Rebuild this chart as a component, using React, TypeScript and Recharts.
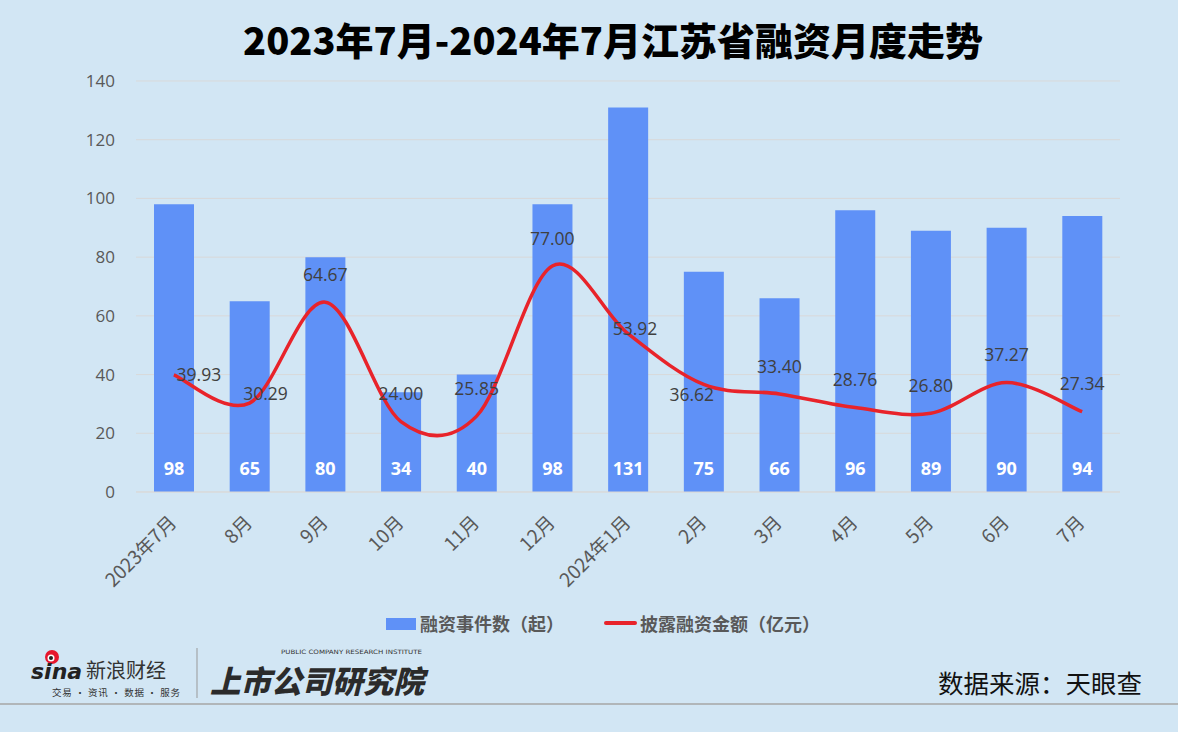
import React from "react";
import { Bar, CartesianGrid, ComposedChart, LabelList, Line, XAxis, YAxis } from "recharts";

const months = ["2023年7月", "8月", "9月", "10月", "11月", "12月", "2024年1月", "2月", "3月", "4月", "5月", "6月", "7月"];
const eventCounts = [98, 65, 80, 34, 40, 98, 131, 75, 66, 96, 89, 90, 94];
const amounts = [39.93, 30.29, 64.67, 24.0, 25.85, 77.0, 53.92, 36.62, 33.4, 28.76, 26.8, 37.27, 27.34];
const yTicks = [0, 20, 40, 60, 80, 100, 120, 140];

// label nudges for the line labels (style only, dx/dy from the point)
const LABEL_NUDGE: Array<[number, number]> = [
  [25, 2], [16, -8], [0, -26], [0, -26], [0, -26], [0, -26], [7, -3],
  [-12, 12], [0, -26], [0, -26], [0, -26], [0, -26], [0, -26],
];

const BG = "#d2e6f4";
const BAR = "#5f91f7";
const RED = "#e8232a";
const NUM_FONT = "'Open Sans', 'Noto Sans CJK SC', sans-serif";
const CJK_FONT = "'Noto Sans CJK SC', sans-serif";

const data = months.map((m, i) => ({ month: m, count: eventCounts[i], amount: amounts[i] }));

// Excel-like smoothed line (Catmull-Rom as cubic beziers)
const smoothCurve = (context: any) => {
  let pts: Array<[number, number]> = [];
  return {
    areaStart() {},
    areaEnd() {},
    lineStart() {
      pts = [];
    },
    point(x: number, y: number) {
      pts.push([+x, +y]);
    },
    lineEnd() {
      const n = pts.length;
      if (!n) return;
      context.moveTo(pts[0][0], pts[0][1]);
      for (let i = 0; i < n - 1; i++) {
        const p0 = pts[i - 1] || pts[i];
        const p1 = pts[i];
        const p2 = pts[i + 1];
        const p3 = pts[i + 2] || p2;
        context.bezierCurveTo(
          p1[0] + (p2[0] - p0[0]) / 6,
          p1[1] + (p2[1] - p0[1]) / 6,
          p2[0] - (p3[0] - p1[0]) / 6,
          p2[1] - (p3[1] - p1[1]) / 6,
          p2[0],
          p2[1]
        );
      }
    },
  };
};

const MonthTick = ({ x, y, payload }: any) => (
  <g transform={`translate(${x - 6},${y + 14}) rotate(-45)`}>
    <text textAnchor="end" dy={14} fontSize={19} fill="#595959" fontFamily={CJK_FONT}>
      {payload.value}
    </text>
  </g>
);

const BarValue = (props: any) => {
  const { x, y, width, height, value } = props;
  return (
    <text
      x={x + width / 2}
      y={y + height - 22}
      textAnchor="middle"
      dominantBaseline="middle"
      fill="#fff"
      fontSize={18}
      fontWeight={700}
      fontFamily={NUM_FONT}
    >
      {value}
    </text>
  );
};

const LineValue = (props: any) => {
  const { x, y, value, index } = props;
  const [dx, dy] = LABEL_NUDGE[index] || [0, -26];
  return (
    <text
      x={x + dx}
      y={y + dy}
      textAnchor="middle"
      dominantBaseline="middle"
      fill="#404040"
      fontSize={17.5}
      fontFamily={NUM_FONT}
    >
      {Number(value).toFixed(2)}
    </text>
  );
};

const legendText: React.CSSProperties = {
  position: "absolute",
  top: 0,
  fontFamily: CJK_FONT,
  fontWeight: 700,
  fontSize: 18,
  lineHeight: "22px",
  color: "#595959",
  whiteSpace: "nowrap",
};

export default function App() {
  return (
    <div style={{ position: "absolute", left: 0, top: 0, width: 1178, height: 732, background: BG, overflow: "hidden" }}>
      <div
        style={{
          position: "absolute",
          top: 11,
          left: 24,
          width: 1178,
          textAlign: "center",
          fontFamily: CJK_FONT,
          fontWeight: 900,
          fontSize: 38,
          color: "#000",
        }}
      >
        2023年7月-2024年7月江苏省融资月度走势
      </div>

      <div style={{ position: "absolute", left: 0, top: 0 }}>
        <ComposedChart width={1178} height={600} data={data} margin={{ top: 81, right: 58, left: 76, bottom: 18 }}>
          <CartesianGrid vertical={false} stroke="#d9d9d9" />
          <XAxis
            dataKey="month"
            tick={<MonthTick />}
            interval={0}
            height={90}
            axisLine={{ stroke: "#d9d9d9" }}
            tickLine={false}
          />
          <YAxis
            domain={[0, 140]}
            ticks={yTicks}
            width={60}
            axisLine={false}
            tickLine={false}
            tickMargin={15}
            tick={{ fontSize: 17, fill: "#595959", fontFamily: NUM_FONT }}
          />
          <Bar dataKey="count" fill={BAR} barSize={40} isAnimationActive={false}>
            <LabelList dataKey="count" content={<BarValue />} />
          </Bar>
          <Line
            dataKey="amount"
            type={smoothCurve as any}
            stroke={RED}
            strokeWidth={3.5}
            dot={false}
            isAnimationActive={false}
          >
            <LabelList dataKey="amount" content={<LineValue />} />
          </Line>
        </ComposedChart>
      </div>

      {/* legend */}
      <div style={{ position: "absolute", top: 612, left: 0 }}>
        <span style={{ position: "absolute", left: 386, top: 6, width: 30, height: 12, background: BAR }} />
        <span style={{ ...legendText, left: 420 }}>融资事件数（起）</span>
        <span style={{ position: "absolute", left: 604, top: 9, width: 33, height: 4, borderRadius: 2, background: RED }} />
        <span style={{ ...legendText, left: 640 }}>披露融资金额（亿元）</span>
      </div>

      {/* footer */}
      <svg width={1178} height={100} style={{ position: "absolute", left: 0, top: 632 }}>
        <circle cx={52} cy={25} r={7} fill="#e6162d" />
        <circle cx={51} cy={26} r={3.5} fill="#fff" />
        <circle cx={51} cy={26} r={2} fill="#222" />
        <text x={31} y={47} fontSize={22} fontWeight={900} fontStyle="italic" fill="#222" fontFamily="'DejaVu Sans', sans-serif">
          sina
        </text>
        <text x={86} y={46} fontSize={20} fill="#333" fontFamily={CJK_FONT}>
          新浪财经
        </text>
        <text x={52} y={64} fontSize={9.5} fill="#333" fontFamily={CJK_FONT} textLength={128} lengthAdjust="spacing">
          交易 · 资讯 · 数据 · 服务
        </text>
        <line x1={197} y1={16} x2={197} y2={66} stroke="#999" strokeWidth={1} />
        <text
          x={281}
          y={22}
          fontSize={6}
          fill="#333"
          fontFamily="'DejaVu Sans', sans-serif"
          textLength={141}
          lengthAdjust="spacingAndGlyphs"
        >
          PUBLIC COMPANY RESEARCH INSTITUTE
        </text>
        <text
          x={210}
          y={61}
          fontSize={31}
          fontWeight={900}
          fontStyle="italic"
          fill="#2b2b2b"
          fontFamily={CJK_FONT}
          textLength={214}
          lengthAdjust="spacingAndGlyphs"
        >
          上市公司研究院
        </text>
        <text x={1142} y={61} textAnchor="end" fontSize={25.5} fill="#111" fontFamily={CJK_FONT}>
          数据来源：天眼查
        </text>
        <line x1={0} y1={72} x2={1178} y2={72} stroke="#a6a6a6" strokeWidth={1.5} />
      </svg>
    </div>
  );
}
